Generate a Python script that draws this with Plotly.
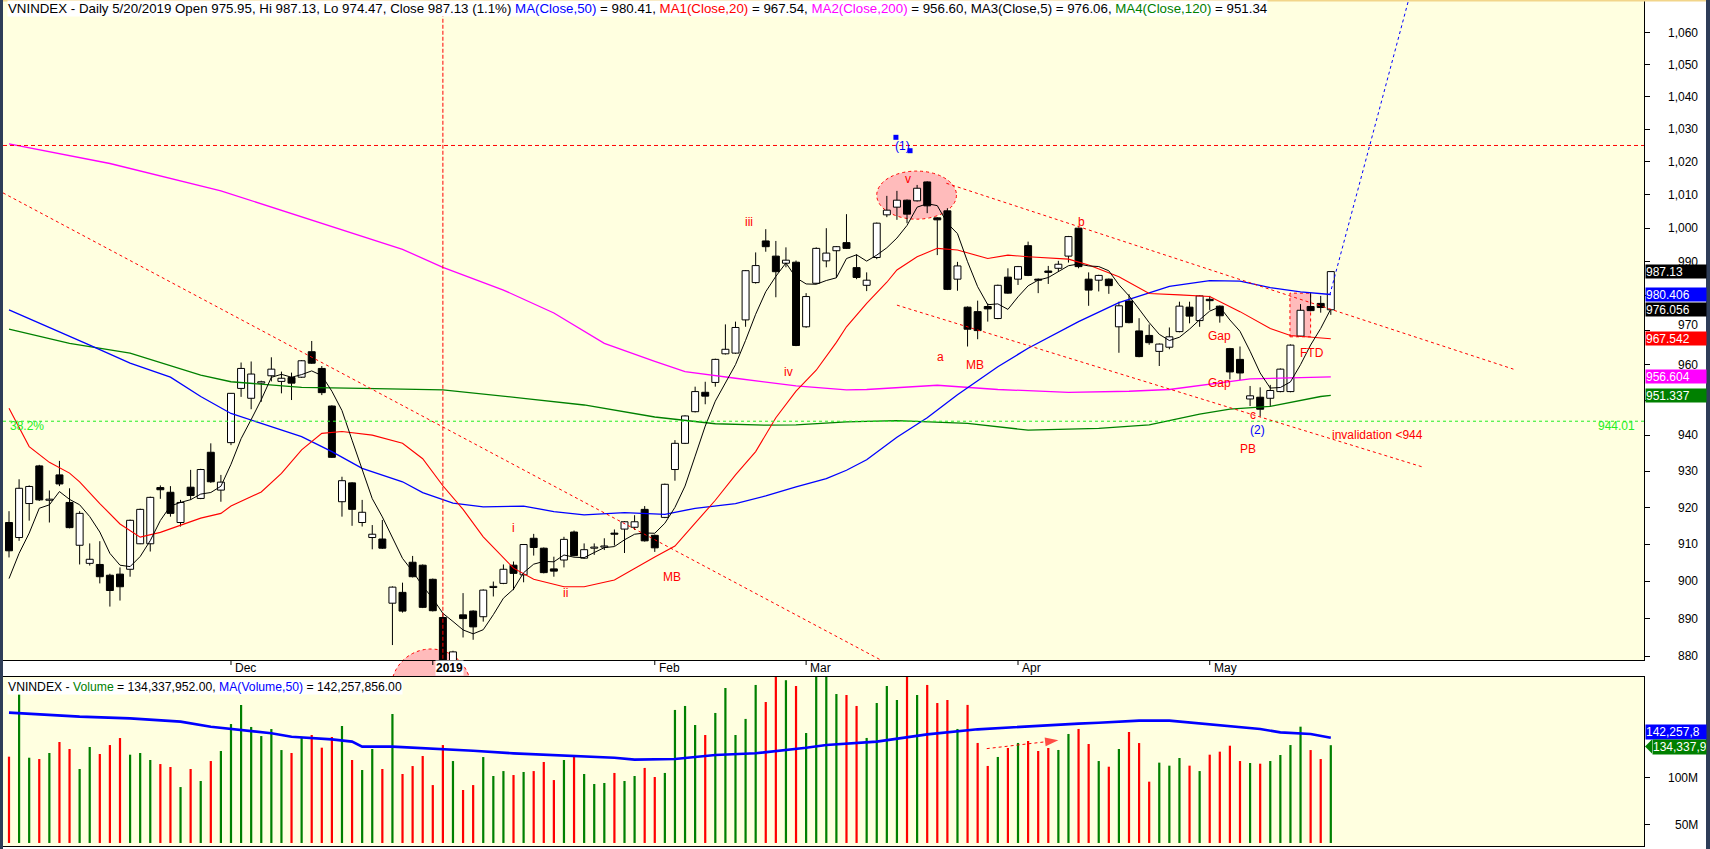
import math
import numpy as np
import pandas as pd
import plotly.graph_objects as go

# ---------------- data ----------------
opens = [915.9, 911.8, 921.1, 931.5, 922.0, 929.0, 921.4, 909.7, 904.8, 904.5,
         901.6, 901.9, 903.2, 910.1, 910.1, 925.5, 924.2, 915.9, 925.6, 922.5,
         935.3, 924.8, 938.0, 953.3, 950.5, 954.8, 956.9, 955.3, 956.4, 956.5,
         963.8, 959.0, 948.3, 921.6, 926.8, 915.9, 911.8, 911.4, 894.1, 897.0,
         905.1, 904.3, 900.5, 890.3, 877.5, 891.0, 892.0, 890.5, 898.3, 899.4,
         904.3, 901.7, 911.6, 908.9, 903.3, 905.7, 913.3, 906.2, 908.9, 909.2,
         913.0, 914.1, 914.6, 919.5, 912.4, 917.3, 930.5, 937.8, 946.7, 952.2,
         955.0, 963.2, 963.4, 973.0, 983.9, 996.2, 991.7, 989.6, 989.9, 971.0,
         983.7, 990.3, 993.3, 995.7, 988.3, 983.1, 991.3, 1004.0, 1006.3, 1008.4,
         1008.2, 1013.9, 1003.1, 1005.2, 984.9, 976.7, 975.4, 976.9, 973.4, 985.5,
         984.9, 994.8, 984.8, 987.3, 988.1, 991.7, 1000.0, 984.9, 984.6, 984.9,
         971.0, 978.5, 969.8, 968.5, 963.9, 965.1, 969.6, 976.7, 972.8, 979.0,
         977.0, 964.7, 961.6, 950.3, 950.8, 950.5, 952.4, 952.4, 968.3, 976.9,
         977.8, 975.95]
highs = [919.0, 927.8, 926.1, 931.8, 924.7, 932.9, 925.3, 919.0, 910.2, 910.8,
         902.0, 903.7, 916.7, 919.7, 923.0, 926.1, 925.9, 922.1, 930.4, 930.7,
         937.8, 929.0, 952.0, 960.7, 961.0, 955.5, 962.2, 958.1, 957.8, 961.4,
         966.9, 959.7, 948.5, 928.5, 927.0, 922.1, 915.2, 916.6, 898.6, 899.6,
         906.8, 904.5, 900.7, 891.4, 881.5, 896.8, 892.2, 897.8, 899.9, 904.5,
         905.3, 910.0, 912.8, 909.1, 906.6, 912.0, 913.7, 910.2, 910.2, 911.6,
         914.0, 916.3, 917.9, 920.4, 912.6, 926.6, 938.7, 945.7, 953.8, 955.2,
         961.8, 971.7, 972.5, 987.6, 992.8, 999.7, 996.2, 994.3, 990.4, 980.8,
         994.3, 1000.0, 994.7, 1004.2, 992.2, 986.9, 1001.7, 1009.7, 1011.2, 1008.6,
         1013.0, 1014.1, 1003.3, 1006.0, 990.0, 976.9, 978.6, 977.8, 983.3, 988.1,
         988.8, 996.0, 985.1, 988.8, 990.3, 997.7, 1000.2, 986.9, 986.2, 985.1,
         978.3, 980.5, 973.5, 971.7, 966.2, 970.8, 978.3, 978.3, 980.2, 980.0,
         977.2, 964.9, 965.3, 954.0, 953.6, 954.3, 959.0, 965.9, 977.6, 981.0,
         980.0, 987.13]
lows = [906.4, 910.9, 916.4, 921.8, 915.9, 925.9, 914.3, 904.5, 904.2, 899.4,
        893.2, 894.8, 901.2, 910.0, 908.0, 922.4, 917.5, 914.8, 922.1, 922.3,
        926.8, 921.6, 937.3, 950.9, 947.4, 949.5, 955.3, 951.9, 950.0, 956.3,
        960.3, 951.4, 933.7, 917.5, 915.0, 914.8, 908.6, 908.7, 883.0, 891.6,
        901.0, 892.8, 891.9, 877.5, 876.0, 885.0, 884.4, 889.2, 895.9, 899.2,
        897.6, 899.7, 906.9, 902.1, 901.2, 903.7, 906.7, 906.0, 907.1, 908.4,
        909.6, 907.6, 913.9, 910.7, 907.9, 917.1, 927.4, 937.6, 946.5, 948.8,
        953.8, 963.0, 963.2, 971.0, 983.6, 993.0, 979.6, 988.4, 965.4, 970.7,
        983.5, 988.4, 985.3, 993.8, 984.9, 981.4, 990.8, 1003.3, 1002.5, 1001.5,
        1008.0, 1004.5, 992.0, 981.7, 981.5, 965.3, 967.4, 972.5, 973.2, 980.6,
        983.2, 985.8, 980.8, 983.5, 987.1, 989.8, 988.1, 977.1, 981.3, 980.6,
        963.5, 972.0, 962.2, 965.8, 959.7, 964.5, 969.4, 972.0, 971.0, 975.9,
        972.2, 955.9, 955.7, 948.3, 945.3, 948.3, 952.2, 952.2, 968.1, 975.5,
        975.1, 974.47]
closes = [908.2, 925.3, 925.8, 922.1, 922.3, 926.5, 914.5, 918.4, 905.9, 901.2,
          897.5, 898.5, 916.5, 919.5, 922.8, 924.9, 918.4, 921.4, 923.3, 930.5,
          927.1, 927.0, 951.9, 959.0, 957.4, 955.2, 958.8, 956.2, 954.8, 961.2,
          960.5, 952.1, 933.9, 927.4, 919.5, 918.7, 912.7, 908.9, 898.4, 892.0,
          901.2, 893.0, 892.1, 878.7, 881.2, 890.0, 887.8, 897.6, 898.6, 903.2,
          902.1, 909.9, 909.1, 902.3, 902.7, 911.3, 906.9, 908.5, 909.2, 909.4,
          912.7, 916.1, 916.1, 910.9, 909.0, 926.4, 937.8, 945.5, 952.4, 951.1,
          961.6, 964.5, 970.8, 987.4, 988.9, 994.5, 987.1, 990.5, 965.6, 979.8,
          994.0, 992.6, 994.5, 994.0, 985.4, 984.6, 1001.5, 1005.4, 1008.4, 1004.2,
          1012.0, 1006.7, 1002.5, 981.9, 988.8, 970.3, 969.9, 976.2, 983.1, 980.8,
          988.6, 986.0, 984.6, 986.9, 989.3, 997.5, 988.6, 981.7, 986.0, 983.0,
          977.1, 972.2, 962.4, 966.4, 966.0, 968.1, 977.0, 974.1, 980.0, 978.6,
          974.2, 958.0, 957.7, 951.2, 947.4, 952.7, 958.8, 965.7, 975.8, 975.7,
          976.6, 987.13]
volume_m = [122.2, 188.1, 121.1, 119.7, 126.1, 137.7, 130.3, 109.2, 132.4, 125.0,
            134.5, 141.9, 124.3, 126.1, 118.7, 114.4, 111.3, 90.1, 109.2, 96.5,
            117.6, 128.2, 156.7, 176.8, 153.6, 144.0, 151.4, 129.2, 126.1, 143.0,
            145.1, 131.7, 143.0, 154.6, 118.7, 108.1, 130.3, 109.2, 167.3, 103.9,
            112.3, 122.9, 92.2, 134.5, 117.6, 87.0, 92.2, 121.8, 101.8, 107.0,
            102.8, 106.0, 107.0, 116.6, 97.5, 118.7, 122.9, 103.9, 93.3, 94.4,
            105.0, 96.5, 101.8, 110.3, 100.7, 105.0, 171.6, 175.8, 155.7, 145.1,
            168.4, 194.8, 145.1, 162.1, 198.0, 180.0, 215.0, 203.0, 196.9, 147.2,
            220.0, 212.0, 188.4, 187.4, 175.8, 142.0, 178.9, 196.9, 182.1, 225.0,
            187.4, 198.0, 178.9, 182.1, 151.5, 176.9, 136.7, 112.4, 121.9, 131.4,
            136.7, 138.8, 128.2, 131.4, 129.3, 146.2, 151.5, 135.6, 117.6, 111.6,
            130.3, 148.3, 136.6, 95.8, 115.9, 112.7, 120.8, 112.7, 107.0, 124.3,
            127.5, 133.8, 117.6, 115.5, 114.8, 117.6, 124.0, 134.5, 153.9, 129.2,
            119.7, 134.34]

month_labels = ["Dec", "2019", "Feb", "Mar", "Apr", "May"]
month_pos = [22, 42, 64, 79, 100, 119]

# moving averages (bar index, value)
ma20_x = [0, 2, 4, 6, 7, 9, 11, 13, 15, 17, 19, 21, 22, 25, 27, 29, 31, 33, 36, 39,
          41, 43, 45, 47, 50, 52, 55, 57, 60, 64, 66, 68, 70, 72, 74, 76, 78, 80, 82, 83,
          85, 87, 88, 90, 92, 94, 97, 99, 101, 105, 107, 110, 113, 116, 119, 122, 125, 127, 131]
ma20_y = [947.7, 936.9, 932.5, 929.5, 927.1, 921.1, 915.5, 911.9, 913.2, 915.2, 917.1, 918.4, 920.4,
          924.3, 929.4, 936.0, 940.6, 941.1, 940.1, 937.8, 933.5, 926.0, 919.5, 912.0, 903.5,
          900.5, 898.5, 898.5, 900.3, 906.5, 909.5, 915.7, 922.0, 929.0, 935.5, 945.0, 952.5,
          958.5, 966.5, 971.0, 977.8, 984.0, 987.6, 991.5, 994.0, 993.5, 991.0, 992.0, 991.5,
          990.8, 989.1, 985.6, 980.7, 980.3, 979.8, 975.4, 970.5, 968.5, 967.54]
ma50_x = [0, 5, 8, 12, 16, 19, 22, 25, 29, 32, 35, 39, 41, 44, 47, 51, 54, 57, 61, 65,
          68, 72, 75, 78, 81, 83, 85, 88, 91, 94, 98, 101, 106, 110, 115, 119, 122, 125, 128, 131]
ma50_y = [975.9, 969.6, 965.7, 960.5, 956.5, 951.0, 946.2, 943.4, 939.7, 935.5, 930.8, 927.1,
          924.1, 921.2, 920.2, 920.4, 918.9, 918.0, 918.6, 918.1, 919.8, 921.1, 923.2, 925.7,
          928.0, 930.3, 933.2, 939.5, 945.0, 951.5, 959.5, 964.8, 972.5, 978.0, 982.8, 984.5,
          984.3, 982.4, 981.2, 980.41]
ma120_x = [0, 6, 12, 19, 22, 29, 35, 39, 43, 51, 57, 64, 70, 75, 78, 83, 88, 95, 101, 108,
           113, 118, 121, 125, 130, 131]
ma120_y = [970.3, 966.2, 963.4, 957.1, 955.2, 953.6, 953.3, 953.0, 952.9, 950.5, 948.6, 945.2,
           943.3, 942.9, 943.0, 943.8, 944.2, 943.4, 941.5, 942.0, 943.0, 946.0, 947.4, 948.2,
           951.0, 951.34]
ma200_x = [0, 10, 21, 31, 39, 43, 49, 54, 59, 64, 67, 72, 78, 83, 85, 92, 98, 105, 111, 115,
           119, 123, 127, 131]
ma200_y = [1025.5, 1019.5, 1011.2, 1001.4, 993.7, 988.4, 981.7, 975.0, 966.2, 961.0, 958.1,
           956.2, 954.0, 952.9, 953.0, 954.2, 953.0, 952.2, 952.5, 953.0, 954.6, 956.0, 956.3, 956.60]
ma5_first = [900.7, 907.5, 913.0, 919.8]
volma_x = [0, 7, 12, 17, 20, 23, 26, 28, 32, 34, 35, 38, 42, 46, 50, 54, 60, 62, 66, 70, 74,
           79, 81, 86, 89, 91, 96, 99, 102, 106, 108, 112, 115, 119, 122, 124, 126, 129, 131]
volma_y = [168.7, 164.5, 162.7, 159.2, 153.9, 150.4, 146.9, 143.3, 140.5, 138.1, 132.8, 132.8,
           131.0, 128.5, 125.7, 123.6, 121.0, 119.1, 119.8, 124.0, 125.8, 131.7, 134.6, 138.1,
           143.0, 145.8, 151.1, 152.9, 155.4, 157.1, 158.1, 160.3, 160.3, 156.4, 153.9, 151.4,
           147.9, 146.2, 142.26]

price_ticks = list(range(880, 1061, 10))
# labels at 980 and 950 sit fully under the value badges in the chart, so they are not written
price_tick_labels_hidden = [980, 950]
vol_ticks_m = [50, 100]

# drawn analysis
fib_level = 944.01
resistance_level = 1025.0
year_bar = 43
trend_long_x, trend_long_y = [-0.6, 86.4], [1010.6, 879.07]
trend_upper_x, trend_upper_y = [92.9, 149.1], [1013.5, 958.8]
trend_lower_x, trend_lower_y = [88.0, 140.1], [977.3, 931.2]
project_x, project_y = [130.9, 139.0], [980.3, 1074.0]
vol_arrow_x, vol_arrow_y = [96.9, 104.0], [130.7, 139.5]
wave1_x, wave1_y = [87.9, 89.3], [1027.5, 1023.4]
top_zone_x, top_zone_y = [86.0, 93.9], [1002.7, 1017.2]
ftd_zone_x, ftd_zone_y = [126.95, 129.0], [968.1, 980.8]

red_labels = [("i", 50.0, 914.3), ("ii", 55.2, 896.9), ("MB", 65.7, 901.2), ("iii", 73.3, 1001.9),
              ("iv", 77.3, 957.9), ("v", 89.1, 1014.7), ("a", 92.3, 962.4), ("MB", 95.7, 960.0),
              ("b", 106.3, 1001.9), ("Gap", 120.0, 968.4), ("Gap", 120.0, 954.9), ("c", 123.3, 945.8),
              ("PB", 122.8, 936.1), ("FTD", 129.1, 963.3)]
blue_labels = [("(1)", 88.6, 1024.8), ("(2)", 123.7, 941.5)]
invalid_label = ("invalidation <944", 130.9, 940.1)

price_badges = [("987.13", 987.13, "#000000"), ("980.406", 980.406, "#0000FF"),
                ("976.056", 976.056, "#000000"), ("967.542", 967.542, "#FF0000"),
                ("956.604", 956.604, "#FF00FF"), ("951.337", 951.337, "#008000")]
vol_badges = [("142,257,8", "#0000FF"), ("134,337,9", "#008000")]

# ---------------- geometry / style ----------------
W, H = 1710, 849
FONT = "Liberation Sans, Arial, sans-serif"
BG = "#FFFFE0"
RED, BLUE, GREEN, MAG = "#FF0000", "#0000FF", "#008000", "#FF00FF"
FIB = "#22EE22"
X_RANGE = [-0.595, 162.04]
Y_RANGE = [math.log10(879.07), math.log10(1070.49)]
V_RANGE = [27.8e6, 206.4e6]
VOL_BASE = 31e6
VOL_BADGE_PX = [731.5, 746.5]   # stacked so they do not collide
TICK_LABEL_SHIFT = {970: 5}     # nudged clear of the 967.542 badge


def px(xp):
    return xp / W


def py(yp):
    return 1 - yp / H


n = len(closes)
idx = list(range(n))

ma5 = pd.Series(closes).rolling(5).mean().tolist()
ma5[:4] = ma5_first

fig = go.Figure()

# wicks
wx, wy = [], []
for i in idx:
    top, bot = max(opens[i], closes[i]), min(opens[i], closes[i])
    if highs[i] > top:
        wx += [i, i, None]
        wy += [highs[i], top, None]
    if lows[i] < bot:
        wx += [i, i, None]
        wy += [bot, lows[i], None]
fig.add_trace(go.Scatter(x=wx, y=wy, mode="lines", line=dict(color="black", width=1),
                         hoverinfo="skip", xaxis="x", yaxis="y"))

up = [i for i in idx if closes[i] >= opens[i]]
dn = [i for i in idx if closes[i] < opens[i]]
for sel, fill in ((up, "white"), (dn, "black")):
    fig.add_trace(go.Bar(
        x=sel,
        base=[min(opens[i], closes[i]) for i in sel],
        y=[max(abs(closes[i] - opens[i]), 0.3) for i in sel],
        width=0.69, marker=dict(color=fill, line=dict(color="black", width=1)),
        hoverinfo="skip", xaxis="x", yaxis="y"))

# moving averages
for xs, ys, col, w in ((ma200_x, ma200_y, MAG, 1.3), (ma120_x, ma120_y, GREEN, 1.3),
                       (ma50_x, ma50_y, BLUE, 1.3), (ma20_x, ma20_y, RED, 1.1),
                       (idx, ma5, "black", 1.0)):
    fig.add_trace(go.Scatter(x=xs, y=ys, mode="lines", line=dict(color=col, width=w),
                             hoverinfo="skip", xaxis="x", yaxis="y"))


def dline(xs, ys, col, dash, width=1.0):
    fig.add_trace(go.Scatter(x=xs, y=ys, mode="lines", line=dict(color=col, width=width, dash=dash),
                             hoverinfo="skip", xaxis="x", yaxis="y"))


dline(X_RANGE, [resistance_level, resistance_level], RED, "4px,3px")
dline(X_RANGE, [fib_level, fib_level], FIB, "3px,3px")
dline([year_bar, year_bar], [870, 1080], RED, "4px,2px")
dline(trend_long_x, trend_long_y, RED, "3px,3px")
dline(trend_upper_x, trend_upper_y, RED, "3px,3px")
dline(trend_lower_x, trend_lower_y, RED, "3px,3px")
dline(project_x, project_y, BLUE, "3px,3px")

fig.add_trace(go.Scatter(x=wave1_x, y=wave1_y, mode="markers",
                         marker=dict(symbol="square", size=5, color=BLUE),
                         hoverinfo="skip", xaxis="x", yaxis="y"))

# volume
vcol = [GREEN if closes[i] >= opens[i] else RED for i in idx]
fig.add_trace(go.Bar(x=idx, y=[v * 1e6 - VOL_BASE for v in volume_m], base=VOL_BASE,
                     width=0.22, marker=dict(color=vcol, line=dict(width=0)),
                     hoverinfo="skip", xaxis="x2", yaxis="y2"))
fig.add_trace(go.Scatter(x=volma_x, y=[v * 1e6 for v in volma_y], mode="lines",
                         line=dict(color=BLUE, width=2.6), hoverinfo="skip", xaxis="x2", yaxis="y2"))
fig.add_trace(go.Scatter(x=vol_arrow_x, y=[v * 1e6 for v in vol_arrow_y], mode="lines+markers",
                         line=dict(color=RED, width=1, dash="3px,3px"),
                         marker=dict(symbol=["circle", "arrow"], size=[0, 14], color=RED,
                                     angleref="previous", line=dict(width=0)),
                         hoverinfo="skip", xaxis="x2", yaxis="y2"))

# ---------------- shapes ----------------
shapes = []
cx, cy, rr = 431, 689, 40
pts = []
for k in range(73):
    t = 2 * math.pi * k / 72
    pts.append((cx + rr * math.cos(t), min(cy + rr * math.sin(t), 676.5)))
path = "M " + " L ".join(f"{px(a):.5f},{py(b):.5f}" for a, b in pts) + " Z"
shapes.append(dict(type="path", xref="paper", yref="paper", path=path,
                   fillcolor="#FFBBBB", line=dict(width=0), layer="below"))
arc = [(cx + rr * math.cos(t), cy + rr * math.sin(t))
       for t in np.linspace(math.pi + 0.31, 2 * math.pi - 0.31, 40)]
shapes.append(dict(type="path", xref="paper", yref="paper",
                   path="M " + " L ".join(f"{px(a):.5f},{py(b):.5f}" for a, b in arc),
                   line=dict(color=RED, width=1, dash="3px,3px"), layer="below"))

shapes.append(dict(type="circle", xref="x", yref="y", x0=top_zone_x[0], x1=top_zone_x[1],
                   y0=top_zone_y[0], y1=top_zone_y[1], fillcolor="#FFBBBB",
                   line=dict(color=RED, width=1, dash="3px,3px"), layer="below"))
shapes.append(dict(type="rect", xref="x", yref="y", x0=ftd_zone_x[0], x1=ftd_zone_x[1],
                   y0=ftd_zone_y[0], y1=ftd_zone_y[1], fillcolor="#FFBBBB",
                   line=dict(color=RED, width=1, dash="3px,3px"), layer="below"))
for p in month_pos:
    shapes.append(dict(type="line", xref="x", yref="paper", x0=p, x1=p, y0=py(660), y1=py(665),
                       line=dict(color="black", width=1)))
# pointer notch of the volume badge
yb = VOL_BADGE_PX[1]
shapes.append(dict(type="path", xref="paper", yref="paper",
                   path=f"M {px(1645):.5f},{py(yb):.5f} L {px(1652):.5f},{py(yb - 7):.5f} "
                        f"L {px(1652):.5f},{py(yb + 7):.5f} Z",
                   fillcolor=GREEN, line=dict(width=0), layer="above"))
# frame decorations
shapes.append(dict(type="rect", xref="paper", yref="paper", x0=0, x1=1, y0=py(1.5), y1=1,
                   fillcolor="#F2D58A", line=dict(width=0), layer="above"))
shapes.append(dict(type="rect", xref="paper", yref="paper", x0=0, x1=px(3), y0=0, y1=1,
                   fillcolor="#2E3D58", line=dict(width=0), layer="above"))
shapes.append(dict(type="rect", xref="paper", yref="paper", x0=px(1706), x1=1, y0=0, y1=1,
                   fillcolor="#2E3D58", line=dict(width=0), layer="above"))

# ---------------- annotations ----------------
ann = []


def A(**k):
    base = dict(showarrow=False, font=dict(family=FONT, size=12, color="black"))
    if "font" in k:
        f = dict(base["font"])
        f.update(k.pop("font"))
        base["font"] = f
    base.update(k)
    ann.append(base)


title = ("VNINDEX - Daily 5/20/2019 Open 975.95, Hi 987.13, Lo 974.47, Close 987.13 (1.1%) "
         f"<span style='color:{BLUE}'>MA(Close,50)</span> = 980.41, "
         f"<span style='color:{RED}'>MA1(Close,20)</span> = 967.54, "
         f"<span style='color:{MAG}'>MA2(Close,200)</span> = 956.60, "
         "<span style='color:#000000'>MA3(Close,5)</span> = 976.06, "
         f"<span style='color:{GREEN}'>MA4(Close,120)</span> = 951.34")
A(text=title, xref="paper", yref="paper", x=px(7), y=py(8.5), xanchor="left", yanchor="middle",
  bgcolor="white", borderpad=0, font=dict(size=13.3))
vtitle = (f"VNINDEX - <span style='color:{GREEN}'>Volume</span> = 134,337,952.00, "
          f"<span style='color:{BLUE}'>MA(Volume,50)</span> = 142,257,856.00")
A(text=vtitle, xref="paper", yref="paper", x=px(7), y=py(686.5), xanchor="left", yanchor="middle",
  bgcolor="white", borderpad=0, font=dict(size=12.2))

for v in price_ticks:
    if v in price_tick_labels_hidden:
        continue
    A(text=f"{v:,}", xref="paper", yref="y", x=px(1700), y=math.log10(v), xanchor="right",
      yanchor="middle", yshift=TICK_LABEL_SHIFT.get(v, 0))
for v in vol_ticks_m:
    A(text=f"{v}M", xref="paper", yref="y2", x=px(1700), y=v * 1e6, xanchor="right",
      yanchor="middle")
for t, v, c in price_badges:
    A(text=t, xref="paper", yref="y", x=px(1645), y=math.log10(v), xanchor="left", yanchor="middle",
      bgcolor=c, font=dict(color="white"), width=60, height=13, align="left", borderpad=0)
for (t, c), ypx, x0 in zip(vol_badges, VOL_BADGE_PX, (1645, 1652)):
    A(text=t, xref="paper", yref="paper", x=px(x0), y=py(ypx), xanchor="left", yanchor="middle",
      bgcolor=c, font=dict(color="white"), width=1705 - x0, height=14, align="left", borderpad=0)

for lab, p in zip(month_labels, month_pos):
    if lab == "2019":
        A(text="<b>2019</b>", xref="x", yref="paper", x=p + 0.2, y=py(668), xanchor="left",
          yanchor="middle", bgcolor="white", borderpad=0)
    else:
        A(text=lab, xref="x", yref="paper", x=p + 0.2, y=py(668), xanchor="left", yanchor="middle")

for t, xv, yv in red_labels:
    A(text=t, xref="x", yref="y", x=xv, y=math.log10(yv), xanchor="center", yanchor="middle",
      font=dict(color=RED))
for t, xv, yv in blue_labels:
    A(text=t, xref="x", yref="y", x=xv, y=math.log10(yv), xanchor="center", yanchor="middle",
      font=dict(color=BLUE))
A(text=invalid_label[0], xref="x", yref="y", x=invalid_label[1], y=math.log10(invalid_label[2]),
  xanchor="left", yanchor="middle", font=dict(color=RED))
A(text="38.2%", xref="paper", yref="y", x=px(8), y=math.log10(942.7), xanchor="left",
  yanchor="middle", font=dict(color=FIB))
A(text=f"{fib_level:.2f}", xref="paper", yref="y", x=px(1637), y=math.log10(942.7),
  xanchor="right", yanchor="middle", font=dict(color=FIB))

fig.update_layout(
    width=W, height=H, autosize=False, margin=dict(l=0, r=0, t=0, b=0, pad=0),
    paper_bgcolor="white", plot_bgcolor=BG, showlegend=False, hovermode=False,
    barmode="overlay", font=dict(family=FONT, size=12, color="black"),
    xaxis=dict(domain=[px(3), px(1644)], range=X_RANGE, anchor="y", showgrid=False,
               zeroline=False, showticklabels=False, ticks="", showline=True,
               linecolor="black", linewidth=1, rangeslider=dict(visible=False)),
    yaxis=dict(domain=[py(660), 1], type="log", range=Y_RANGE, anchor="x", side="right",
               showgrid=False, zeroline=False, showline=True, linecolor="black", linewidth=1,
               ticks="outside", ticklen=5, tickcolor="black", tickvals=price_ticks,
               showticklabels=False),
    xaxis2=dict(domain=[px(3), px(1644)], range=X_RANGE, anchor="y2", showgrid=False,
                zeroline=False, showticklabels=False, ticks="", showline=True, mirror=True,
                linecolor="black", linewidth=1),
    yaxis2=dict(domain=[py(846), py(677)], range=V_RANGE, anchor="x2", side="right",
                showgrid=False, zeroline=False, showline=True, linecolor="black", linewidth=1,
                ticks="outside", ticklen=5, tickcolor="black",
                tickvals=[v * 1e6 for v in vol_ticks_m], showticklabels=False),
    shapes=shapes, annotations=ann,
)

fig.write_html("out.html", config={"displayModeBar": False},
               post_script="document.body.style.margin='0';document.body.style.overflow='hidden';")
